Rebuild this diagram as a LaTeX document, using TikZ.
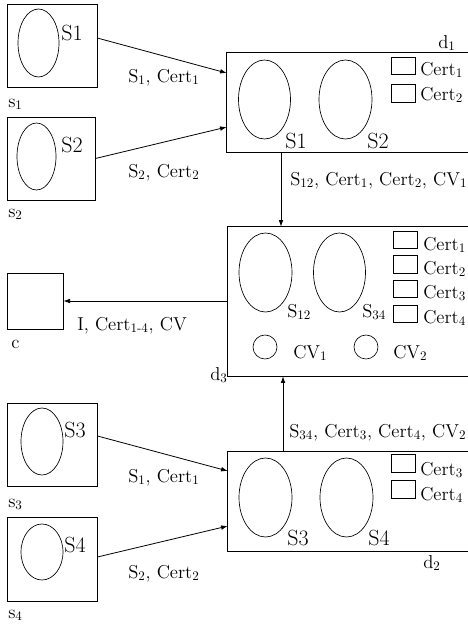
\documentclass[tikz,border=0pt]{standalone}
\usetikzlibrary{arrows.meta,fit}
\begin{document}
\begin{tikzpicture}[x=0.75pt,y=-0.75pt,
 boxs/.style={draw,line width=0.6pt,inner sep=0pt},
 frame/.style={inner sep=0pt},
 framelines/.style={line width=0.6pt},
 ell/.style={line width=0.5pt},
 cbox/.style={draw,line width=0.5pt,inner sep=0pt},
 cvc/.style={draw,circle,line width=0.5pt,inner sep=0pt,minimum size=18pt},
 lbl/.style={inner sep=0pt,anchor=base west,font=\fontsize{14}{16}\selectfont},
 big/.style={inner sep=0pt,anchor=base west,font=\fontsize{16.5}{18}\selectfont},
 conn/.style={line width=0.6pt,-{Latex[length=5pt,width=3.5pt]}}]
\useasboundingbox (0,0) rectangle (468,629);

% sources
\node[boxs, fit={(7,4)(97,87)}] (s1) {};
\node[boxs, fit={(7,117)(95,200)}] (s2) {};
\node[boxs, fit={(7,403)(97,486)}] (s3) {};
\node[boxs, fit={(7,517)(97,601)}] (s4) {};
\node[boxs, fit={(7,273)(63,329)}] (c) {};
\draw[ell] (38.5,43) ellipse [x radius=20.5, y radius=34];
\draw[ell] (36.5,156.5) ellipse [x radius=19.5, y radius=33.5];
\draw[ell] (42,441.5) ellipse [x radius=21, y radius=33.5];
\draw[ell] (42,552) ellipse [x radius=21, y radius=28];
\node[big] (ls1) at (61,40) {S1};
\node[big] (ls2) at (61,152) {S2};
\node[big] (ls3) at (64,437) {S3};
\node[big] (ls4) at (64,552) {S4};
\node[lbl] (ns1) at (8,107) {s\textsubscript{1}};
\node[lbl] (ns2) at (8,217) {s\textsubscript{2}};
\node[lbl] (ns3) at (8,507) {s\textsubscript{3}};
\node[lbl] (ns4) at (8,618) {s\textsubscript{4}};
\node[lbl] (nc) at (11,348) {c};

% d1
\node[frame, fit={(227,53)(468,152)}] (d1) {};
\draw[framelines] (d1.north east) -- (d1.north west) -- (d1.south west) -- (d1.south east);
\draw[ell] (264.5,99.5) ellipse [x radius=26, y radius=39.5];
\draw[ell] (345.5,99.5) ellipse [x radius=26.5, y radius=39.5];
\node[big] (d1s1) at (285,148) {S1};
\node[big] (d1s2) at (367,148) {S2};
\node[cbox, fit={(391,57)(415,74)}] (d1c1) {};
\node[cbox, fit={(391,84)(415,102)}] (d1c2) {};
\node[lbl] (d1t1) at (420,75) {Cert\textsubscript{1}};
\node[lbl] (d1t2) at (420,100) {Cert\textsubscript{2}};
\node[lbl] (nd1) at (438,48) {d\textsubscript{1}};

% d3
\node[frame, fit={(228,227)(468,376)}] (d3) {};
\draw[framelines] (d3.north east) -- (d3.north west) -- (d3.south west) -- (d3.south east);
\draw[ell] (265.5,272.5) ellipse [x radius=26.5, y radius=39.5];
\draw[ell] (339.5,272.5) ellipse [x radius=26, y radius=39.5];
\node[lbl] (d3s12) at (287,317) {S\textsubscript{12}};
\node[lbl] (d3s34) at (362,317) {S\textsubscript{34}};
\node[cbox, fit={(393,231)(417,248)}] (d3c1) {};
\node[cbox, fit={(393,255)(417,273)}] (d3c2) {};
\node[cbox, fit={(393,280)(417,297)}] (d3c3) {};
\node[cbox, fit={(393,305)(417,322)}] (d3c4) {};
\node[lbl] (d3t1) at (423,250) {Cert\textsubscript{1}};
\node[lbl] (d3t2) at (423,274) {Cert\textsubscript{2}};
\node[lbl] (d3t3) at (423,298) {Cert\textsubscript{3}};
\node[lbl] (d3t4) at (423,323) {Cert\textsubscript{4}};
\node[cvc] (cv1) at (265,347) {};
\node[cvc] (cv2) at (366,347) {};
\node[lbl] (tcv1) at (293,358) {CV\textsubscript{1}};
\node[lbl] (tcv2) at (393,358) {CV\textsubscript{2}};
\node[lbl] (nd3) at (210,380) {d\textsubscript{3}};

% d2
\node[frame, fit={(228,452)(468,551)}] (d2) {};
\draw[framelines] (d2.north east) -- (d2.north west) -- (d2.south west) -- (d2.south east);
\draw[ell] (265.5,497.5) ellipse [x radius=26.5, y radius=39.5];
\draw[ell] (346.5,497.5) ellipse [x radius=26.5, y radius=39.5];
\node[big] (d2s3) at (287,545) {S3};
\node[big] (d2s4) at (368,545) {S4};
\node[cbox, fit={(391,454)(415,472)}] (d2c3) {};
\node[cbox, fit={(391,480)(415,498)}] (d2c4) {};
\node[lbl] (d2t3) at (420,475) {Cert\textsubscript{3}};
\node[lbl] (d2t4) at (420,500) {Cert\textsubscript{4}};
\node[lbl] (nd2) at (423,568) {d\textsubscript{2}};

% connectors
\coordinate (v1) at (281,0);
\coordinate (v2) at (283,0);
\draw[conn] ([yshift=5.6pt]s1.east) -- ([yshift=22.1pt]d1.west);
\draw[conn] (s2.east) -- ([yshift=-18.4pt]d1.west);
\draw[conn] ([yshift=6.4pt]s3.east) -- ([yshift=22.9pt]d2.west);
\draw[conn] ([yshift=1.5pt]s4.east) -- ([yshift=-18.4pt]d2.west);
\draw[conn] (d1.south -| v1) -- (d3.north -| v1);
\draw[conn] (d2.north -| v2) -- (d3.south -| v2);
\draw[conn] (d3.west |- c.east) -- (c.east);

% connector labels
\node[lbl] (a1) at (128,82) {S\textsubscript{1}, Cert\textsubscript{1}};
\node[lbl] (a2) at (128,177) {S\textsubscript{2}, Cert\textsubscript{2}};
\node[lbl] (a3) at (128,482) {S\textsubscript{1}, Cert\textsubscript{1}};
\node[lbl] (a4) at (128,578) {S\textsubscript{2}, Cert\textsubscript{2}};
\node[lbl] (a5) at (290,185) {S\textsubscript{12}, Cert\textsubscript{1}, Cert\textsubscript{2}, CV\textsubscript{1}};
\node[lbl] (a6) at (289,437) {S\textsubscript{34}, Cert\textsubscript{3}, Cert\textsubscript{4}, CV\textsubscript{2}};
\node[lbl] (a7) at (77,330) {I, Cert\textsubscript{1-4}, CV};
\end{tikzpicture}
\end{document}
